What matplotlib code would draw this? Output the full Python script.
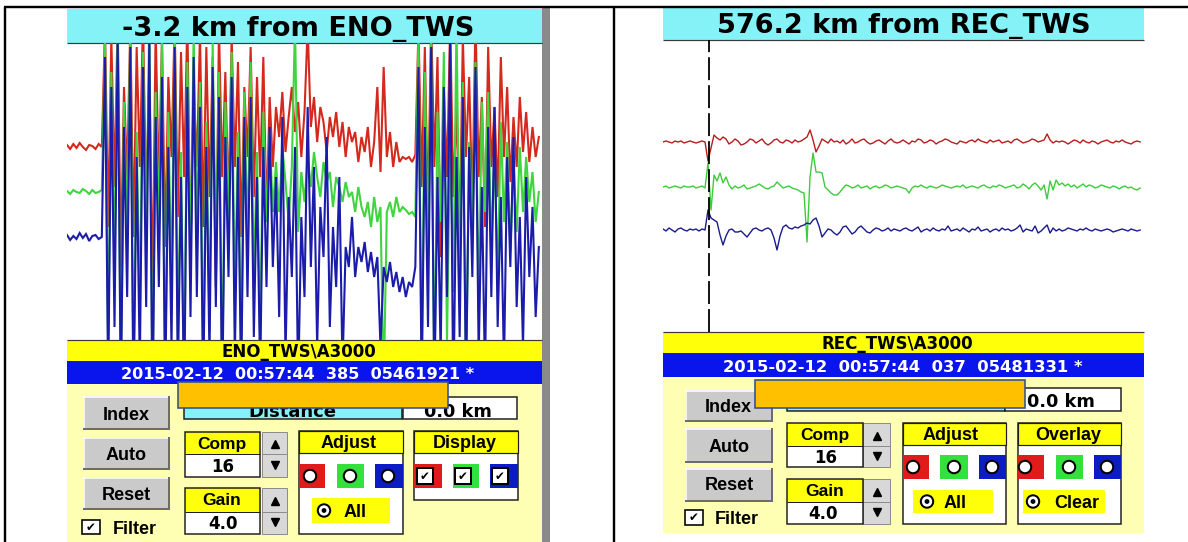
import numpy as np
import matplotlib
matplotlib.use("Agg")
import matplotlib.pyplot as plt
from matplotlib.patches import Rectangle, Circle

# ------------------------------------------------------------------ data
LEFT_TITLE = "-3.2 km from ENO_TWS"
RIGHT_TITLE = "576.2 km from REC_TWS"
LEFT_STATION = "ENO_TWS\\A3000"
RIGHT_STATION = "REC_TWS\\A3000"
LEFT_STAMP = "2015-02-12  00:57:44  385  05461921 *"
RIGHT_STAMP = "2015-02-12  00:57:44  037  05481331 *"
BUTTON_LABELS = ["Index", "Auto", "Reset"]
FILTER_LABEL = "Filter"
DISTANCE_LABEL = "Distance"
DISTANCE_VALUE = "0.0 km"
COMP_LABEL, COMP_VALUE = "Comp", "16"
GAIN_LABEL, GAIN_VALUE = "Gain", "4.0"
ADJUST_LABEL, ALL_LABEL = "Adjust", "All"
DISPLAY_LABEL, OVERLAY_LABEL, CLEAR_LABEL = "Display", "Overlay", "Clear"
RIGHT_PICK_SAMPLE = 15.2

# left station: three components (counts, + = up)
left_red = [2, -2, 3, -1, 4, 0, -3, 2, 1, -2, 3, 0,
            120, -80, 110, -40, 130, -120, 60, -30, 125, -90,
            100, -20, 130, -60, 80, -150, 120, -40, 110, -100,
            70, -10, 125, -70, 95, -30, 130, -110, 60, -20,
            115, -80, 100, -50, 90, -140, 120, -30, 75, -60,
            110, -20, 85, -90, 60, -10, 100, -50, 70, -30,
            90, -70, 50, -20,
            40, 10, 55, -5, 30, 60, 15, 45, -10, 35,
            120, 20, 50, 5, 40, 25, -5, 30, 10, 35,
            0, 25, -10, 20, 5, 15, -15, 10, -5, 20,
            -20, 5, 60, -25, 80, -10, 15, -20, 5, -15,
            -10, -12, -10, -15, -8,
            120, -40, 100, -70, 130, -20, 90, -110, 60, -30,
            125, -50, 40, -90, 110, -10, 70, -60, 130, -30,
            50, -80, 100, -20, 40, -50, 90, -10, 60, -35,
            30, -20, 50, -5, 35, -15, 20, -10, 10]
left_green = [1, -2, 2, 0, -1, 3, 1, -2, 2, -1, 0, 2,
              150, -160, 120, -80, 170, -200, 90, -40, 160, -180,
              60, -120, 140, -60, 180, -210, 100, -30, 150, -190,
              80, -100, 170, -150, 40, -200, 130, -70, 160, -40,
              110, -180, 70, -140, 150, -60, 120, -200, 90, -30,
              140, -110, 60, -170, 100, -50, 130, -90, 40, -150,
              80, -30, 60, -20,
              30, -20, 45, 10, -30, 25, 170, -40, 20, -10,
              35, 5, 40, 15, -5, 30, 10, 20, -15, 15,
              5, -10, 10, -5, 0, -20, 5, -15, -25, -10,
              -35, -5, -30, -15, -200, -20, -10, -25, -5, -20,
              -15, -18, -22, -20, -25,
              160, -190, 120, -60, 150, -200, 80, -30, 140, -150,
              60, -100, 170, -80, 110, -200, 50, -40, 130, -120,
              90, -20, 100, -60, 40, -90, 70, -30, 50, -60,
              30, -40, 45, -20, 35, -10, 20, -30, 0]
left_blue = [2, -3, 1, -2, 4, -1, 3, -4, 1, 2, -2, 0,
             180, -150, 150, -90, 200, -160, 110, -60, 190, -170,
             80, -130, 170, -70, 200, -180, 120, -50, 160, -160,
             90, -110, 190, -140, 60, -170, 150, -80, 180, -60,
             130, -160, 90, -120, 170, -70, 140, -170, 100, -40,
             160, -120, 80, -150, 120, -60, 140, -100, 60, -140,
             90, -50, 110, -30,
             60, -80, 120, -120, 40, -40, 90, -150, 20, -60,
             130, -30, 70, -110, 30, -20, 100, -90, 10, -50,
             60, -130, -10, -30, 20, -40, -10, -25, -5, -35,
             -15, -40, -20, -110, -30, -45, -25, -50, -35, -55,
             -40, -60, -45, -50, -30,
             170, -150, 110, -90, 190, -160, 60, -120, 150, -60,
             200, -170, 80, -100, 140, -150, 90, -40, 170, -120,
             50, -140, 110, -60, 130, -90, 40, -130, 80, -30,
             100, -70, 20, -110, 60, -40, 30, -80, -10]

# right station
right_red = [0, 1, 0, -1, 1, 0, 1, -1, 0, 1, 0, -1, 0, 1, 0,
             -19, -6, 7, 4, 2, 5, 3, -2, 0, 3,
             1, -3, -2, 0, 3, 2, -1, 1, 3, -1, -3, -1, 2, 3, 0, -1, 2, 1, -1, 2, 0, 1, 3,
             5, 12, 2, -10, -4, 3, 1, -1, 3, 0,
             1, -1, 2, -2, 0, 3, -1, 0, 2, 3,
             0, -2, -1, 1, 2, 0, -2, 1, 3, 0,
             -1, 0, 2, 0, -2, 1, 0, 3, 2, -1,
             0, 2, 1, -2, 0, 1, 3, 2, 0, -1,
             -2, 1, 0, -1, 1, 2, 0, 3, 1, 0,
             -1, 2, 0, 1, 2, -1, 0, 1, -1, 2,
             3, 1, -1, 0, 1, 3, 2, 0, 1, 2,
             8, 2, -1, 1, 0,
             1, 0, -2, 0, 2, 1, -1, 2, 0, -1,
             1, 0, -2, 0, 1, 2, 0, -1, 1, 0,
             2, 0, -1, -2, 0, 1, 0]
right_green = [0, 1, -1, 0, 1, 0, -1, 1, 0, 0, 1, -1, 0, 1, -1,
               24, -23, 12, 6, 14, 4, 10, 2, -2, 1,
               -1, 0, 2, -2, -1, 0, 1, 3, 1, -1, -2, 0, 1, 5, 2, -1, 0, 1, -1, -2, -3, -5, -6,
               -55, 10, 34, 15, 15, 14, 0, -3, -6, -8,
               -8, -5, -1, 2, 1, -1, 0, 2, -1, 0,
               1, -2, 0, 1, -1, 0, 2, 1, -1, 0,
               1, 0, -1, -2, -6, -1, 1, 0, 2, 0,
               -1, 1, 0, -1, 0, 2, 1, 0, -1, 0,
               1, 0, 2, -1, 0, 1, 0, -1, 1, 2,
               0, -1, 1, 0, 2, 1, -1, 0, 1, 2,
               -1, 0, 3, 1, -2, 2, 4, 1, -3, 2,
               -12, 6, -3, 7, 2,
               4, 1, 3, 0, 2, -1, 1, 3, 0, 2,
               1, -1, 0, 2, 1, 0, -1, 1, 0, -2,
               0, 1, -1, 0, -2, -3, -1]
right_blue = [1, -1, 2, 0, -2, 1, 2, 0, -1, 1, 0, 1, -1, 1, 0,
              20, 12, 10, 8, -5, -15, -6, 0, 1, -2,
              -2, -1, -4, -7, -3, 1, 2, 0, -1, 1, 2, 0, -8, -20, -6, 3, 5, 2, 1, 3, 2, 4, 5,
              7, 6, 10, 12, 4, -7, -3, 1, 0, -3,
              -5, -2, 3, 4, 0, -4, -2, 2, 4, 1,
              -2, -3, 0, 2, 1, -1, 0, 2, -1, 1,
              0, -1, 1, 2, 0, -1, 1, 3, -2, 0,
              1, -1, 2, 0, -1, 1, 0, 4, -1, 0,
              1, -1, 2, 0, -2, 1, 0, 3, -1, 0,
              1, -2, 0, 1, -1, 2, 0, 1, -1, 0,
              2, 5, -2, 1, 0, -1, 4, -3, -1, 2,
              5, -3, 2, -1, 1,
              -1, 0, 2, 1, 0, -1, 1, 0, 2, 0,
              -1, 1, 0, -1, 0, 1, 0, -2, -1, 0,
              1, 0, -1, 1, 0, -1, 0]

# ------------------------------------------------------------------ style
W, H = 1188, 542
CYAN = "#84f2f7"
YELLOW = "#ffff0a"
PALE = "#ffffb4"
BLUEBAR = "#0a14ec"
BTN = "#cacaca"
EDGE = "#1e1e1e"
SQ_RED, SQ_GREEN, SQ_BLUE = "#e01b1b", "#33e03c", "#0b1cc2"
ORANGE, ORANGE_EDGE = "#ffc000", "#2f528f"
UI = ["Liberation Sans", "DejaVu Sans"]
WIDE = ["DejaVu Sans"]
PX = 0.72  # points per pixel

fig = plt.figure(figsize=(W / 100, H / 100), dpi=100)
fig.patch.set_facecolor("white")
ui = fig.add_axes([0, 0, 1, 1])
ui.set_xlim(0, W)
ui.set_ylim(H, 0)
ui.set_autoscale_on(False)
ui.axis("off")


def rect(x0, y0, x1, y1, fc="none", ec="none", lw=0.0, z=1):
    ui.add_patch(Rectangle((x0, y0), x1 - x0, y1 - y0, facecolor=fc,
                           edgecolor=ec, linewidth=lw * PX, zorder=z))


def hline(x0, x1, y, color, lw, z=2):
    ui.plot([x0, x1], [y, y], color=color, lw=lw * PX, zorder=z,
            solid_capstyle="butt")


def vline(x, y0, y1, color, lw, z=2):
    ui.plot([x, x], [y0, y1], color=color, lw=lw * PX, zorder=z,
            solid_capstyle="butt")


def label(x, yc, s, size, fam=UI, color="black", ha="center", z=3, cap=0.72):
    base = yc + cap * size / PX / 2
    ui.text(x, base, s, fontsize=size, family=fam, fontweight="bold",
            color=color, ha=ha, va="baseline", zorder=z)


def button(x0, y0, x1, y1, text, tx, ty):
    rect(x0, y0, x1, y1, fc=BTN)
    hline(x0, x1, y0 + 0.8, "white", 1.6)
    vline(x0 + 0.8, y0, y1, "white", 1.6)
    hline(x0, x1, y1 - 1, "#6c6c6c", 2)
    vline(x1 - 1, y0, y1, "#6c6c6c", 2)
    label(tx, ty, text, 13)


def spinner(x0, x1, y0, y1, y2):
    for a, b, m in ((y0, y1, "^"), (y1, y2, "v")):
        rect(x0, a, x1, b, fc="#d8d8d8", ec="#8c8c8c", lw=1)
        ui.plot([(x0 + x1) / 2], [(a + b) / 2 + (1 if m == "^" else -1)],
                marker=m, ms=5.5, color="black", zorder=3)


def field(x0, x1, y0, y1, y2, name, value, lx, ly, vx, vy, nsize=12.5):
    rect(x0, y0, x1, y1, fc=YELLOW)
    rect(x0, y1, x1, y2, fc="white")
    rect(x0, y0, x1, y2, ec=EDGE, lw=1.5, z=2)
    hline(x0, x1, y1, EDGE, 1)
    label(lx, ly, name, nsize)
    label(vx, vy, value, 12, fam=WIDE, cap=0.73)


def radio(cx, cy, dot=False):
    ui.add_patch(Circle((cx, cy), 6.2, facecolor="white", edgecolor="black",
                        linewidth=2 * PX, zorder=3))
    if dot:
        ui.add_patch(Circle((cx, cy), 2.4, facecolor="black", zorder=4))


def checkbox(x0, y0, x1, y1, lw=2):
    rect(x0, y0, x1, y1, fc="white", ec="black", lw=lw, z=3)
    ui.text((x0 + x1) / 2, (y0 + y1) / 2 + 0.5, "\u2714", fontsize=8.5,
            family=["DejaVu Sans"], ha="center", va="center", zorder=4)


def group(x0, x1, y0, yh, y1, name, nx, ny):
    rect(x0, y0, x1, y1, fc="white", ec=EDGE, lw=1.5, z=1)
    rect(x0, y0, x1, yh, fc=YELLOW, ec=EDGE, lw=1.2, z=1.5)
    label(nx, ny, name, 13)


# ------------------------------------------------------------------ frame of table
hline(4, W, 7.3, "black", 2.4)
vline(5, 7, H, "black", 2.4)
vline(614, 7, H, "black", 2.4)

# ------------------------------------------------------------------ LEFT window
rect(542, 8, 550, H, fc="#8a8a8a")
rect(67, 9, 542, 43, fc=CYAN)
hline(67, 542, 43, "#3a3a3a", 1.2)
label(298, 26.5, LEFT_TITLE, 19.5, fam=WIDE, cap=0.73)
rect(67, 340, 542, 361, fc=YELLOW)
hline(67, 542, 340, "#3a3a3a", 1.2)
label(299, 350.5, LEFT_STATION, 12, fam=WIDE, cap=0.73)
rect(67, 361, 542, 384, fc=BLUEBAR)
label(298, 373, LEFT_STAMP, 11.6, fam=WIDE, color="white", cap=0.73)
rect(67, 384, 542, H, fc=PALE)

button(83, 396, 170, 430, BUTTON_LABELS[0], 126, 413)
button(83, 437, 170, 470, BUTTON_LABELS[1], 126, 453)
button(83, 477, 170, 510, BUTTON_LABELS[2], 126, 493)
checkbox(82, 520, 100, 534, lw=1.6)
label(135, 527, FILTER_LABEL, 13)

rect(184, 397, 402, 419, fc=CYAN, ec=EDGE, lw=1.5)
label(292, 410, DISTANCE_LABEL, 13, fam=WIDE, cap=0.73)
rect(403, 397, 517, 419, fc="white", ec=EDGE, lw=1.5)
label(458, 411, DISTANCE_VALUE, 12.8, fam=WIDE, cap=0.73)

field(185, 260, 432, 454, 477, COMP_LABEL, COMP_VALUE, 222, 443, 223, 466)
spinner(262, 287, 432, 454, 477)
field(185, 260, 488, 512, 534, GAIN_LABEL, GAIN_VALUE, 222, 499, 223, 523)
spinner(262, 287, 488, 512, 534)

group(299, 403, 431, 453, 534, ADJUST_LABEL, 349, 442)
for (a, b, c, cx) in ((299, 325, SQ_RED, 310), (337, 364, SQ_GREEN, 350),
                      (375, 403, SQ_BLUE, 388)):
    rect(a, 464, b, 488, fc=c, z=2)
    radio(cx, 476)
rect(312, 498, 390, 523, fc=YELLOW, z=2)
radio(324, 510.5, dot=True)
label(355, 510.5, ALL_LABEL, 13)

group(414, 518, 431, 453, 500, DISPLAY_LABEL, 465, 442)
for (a, b, c, k0) in ((414, 442, SQ_RED, 417), (453, 479, SQ_GREEN, 455),
                      (490, 518, SQ_BLUE, 492)):
    rect(a, 464, b, 488, fc=c, z=2)
    checkbox(k0, 468, k0 + 16, 484)

rect(178, 382, 448, 408, fc=ORANGE, ec=ORANGE_EDGE, lw=1.6, z=6)

# ------------------------------------------------------------------ RIGHT window
rect(663, 8, 1144, 40, fc=CYAN)
hline(663, 1144, 40, "#3a3a3a", 1.2)
label(904, 23.5, RIGHT_TITLE, 19.5, fam=WIDE, cap=0.73)
rect(663, 332, 1144, 353, fc=YELLOW)
hline(663, 1144, 332, "#3a3a3a", 1.2)
label(897, 342.5, RIGHT_STATION, 12, fam=WIDE, cap=0.73)
rect(663, 353, 1144, 377, fc=BLUEBAR)
label(903, 366.5, RIGHT_STAMP, 11.8, fam=WIDE, color="white", cap=0.73)
rect(663, 377, 1144, 533, fc=PALE)

button(685, 390, 773, 422, BUTTON_LABELS[0], 728, 406)
button(685, 428, 773, 463, BUTTON_LABELS[1], 729, 445)
button(685, 468, 773, 502, BUTTON_LABELS[2], 729, 483)
checkbox(685, 510, 703, 525, lw=1.6)
label(737, 518, FILTER_LABEL, 13)

rect(787, 388, 1005, 411, fc=CYAN, ec=EDGE, lw=1.5)
label(896, 401, DISTANCE_LABEL, 13, fam=WIDE, cap=0.73)
rect(1005, 388, 1121, 411, fc="white", ec=EDGE, lw=1.5)
label(1061, 401, DISTANCE_VALUE, 12.8, fam=WIDE, cap=0.73)

field(787, 863, 423, 446, 467, COMP_LABEL, COMP_VALUE, 825, 434, 826, 457)
spinner(863, 890, 423, 446, 467)
field(787, 863, 479, 502, 524, GAIN_LABEL, GAIN_VALUE, 825, 490, 823, 513)
spinner(863, 890, 479, 502, 524)

group(903, 1006, 423, 445, 524, ADJUST_LABEL, 951, 433)
for (a, b, c, cx) in ((903, 929, SQ_RED, 913), (940, 968, SQ_GREEN, 954),
                      (979, 1006, SQ_BLUE, 992)):
    rect(a, 455, b, 479, fc=c, z=2)
    radio(cx, 467)
rect(913, 490, 993, 513, fc=YELLOW, z=2)
radio(927, 501.5, dot=True)
label(955, 501.5, ALL_LABEL, 13)

group(1018, 1121, 423, 445, 524, OVERLAY_LABEL, 1068, 433)
for (a, b, c, cx) in ((1018, 1044, SQ_RED, 1025), (1056, 1083, SQ_GREEN, 1069),
                      (1094, 1121, SQ_BLUE, 1107)):
    rect(a, 455, b, 479, fc=c, z=2)
    radio(cx, 467)
rect(1023, 490, 1105, 513, fc=YELLOW, z=2)
radio(1033, 501.5, dot=True)
label(1077, 501.5, CLEAR_LABEL, 13)

rect(755, 380, 1025, 408, fc=ORANGE, ec=ORANGE_EDGE, lw=1.6, z=6)


# ------------------------------------------------------------------ waveforms
def px_axes(x0, y0, x1, y1):
    ax = fig.add_axes([x0 / W, 1 - y1 / H, (x1 - x0) / W, (y1 - y0) / H])
    ax.axis("off")
    return ax


axL = px_axes(67, 43, 542, 340)
axL.set_xlim(0, 150)
axL.set_ylim(297, 0)
for vals, base, col in ((left_red, 104, "#d42a1e"), (left_green, 149, "#3fd53f"),
                        (left_blue, 194, "#1c1caa")):
    v = np.asarray(vals, float)
    axL.plot(np.arange(len(v)), base - v, color=col, lw=1.5,
             solid_joinstyle="miter")

axR = px_axes(663, 40, 1144, 332)
axR.set_xlim(0, 160.3)
axR.set_ylim(292, 0)
for vals, base, col in ((right_red, 102, "#b81c1c"), (right_green, 147, "#3ccc3c"),
                        (right_blue, 190, "#1a1a8c")):
    v = np.asarray(vals, float)
    axR.plot(np.arange(len(v)), base - v, color=col, lw=1.0)
axR.axvline(RIGHT_PICK_SAMPLE, color="black", lw=1.3, linestyle=(0, (12.7, 2.8)))

fig.savefig("out.png", dpi=100, facecolor="white")
